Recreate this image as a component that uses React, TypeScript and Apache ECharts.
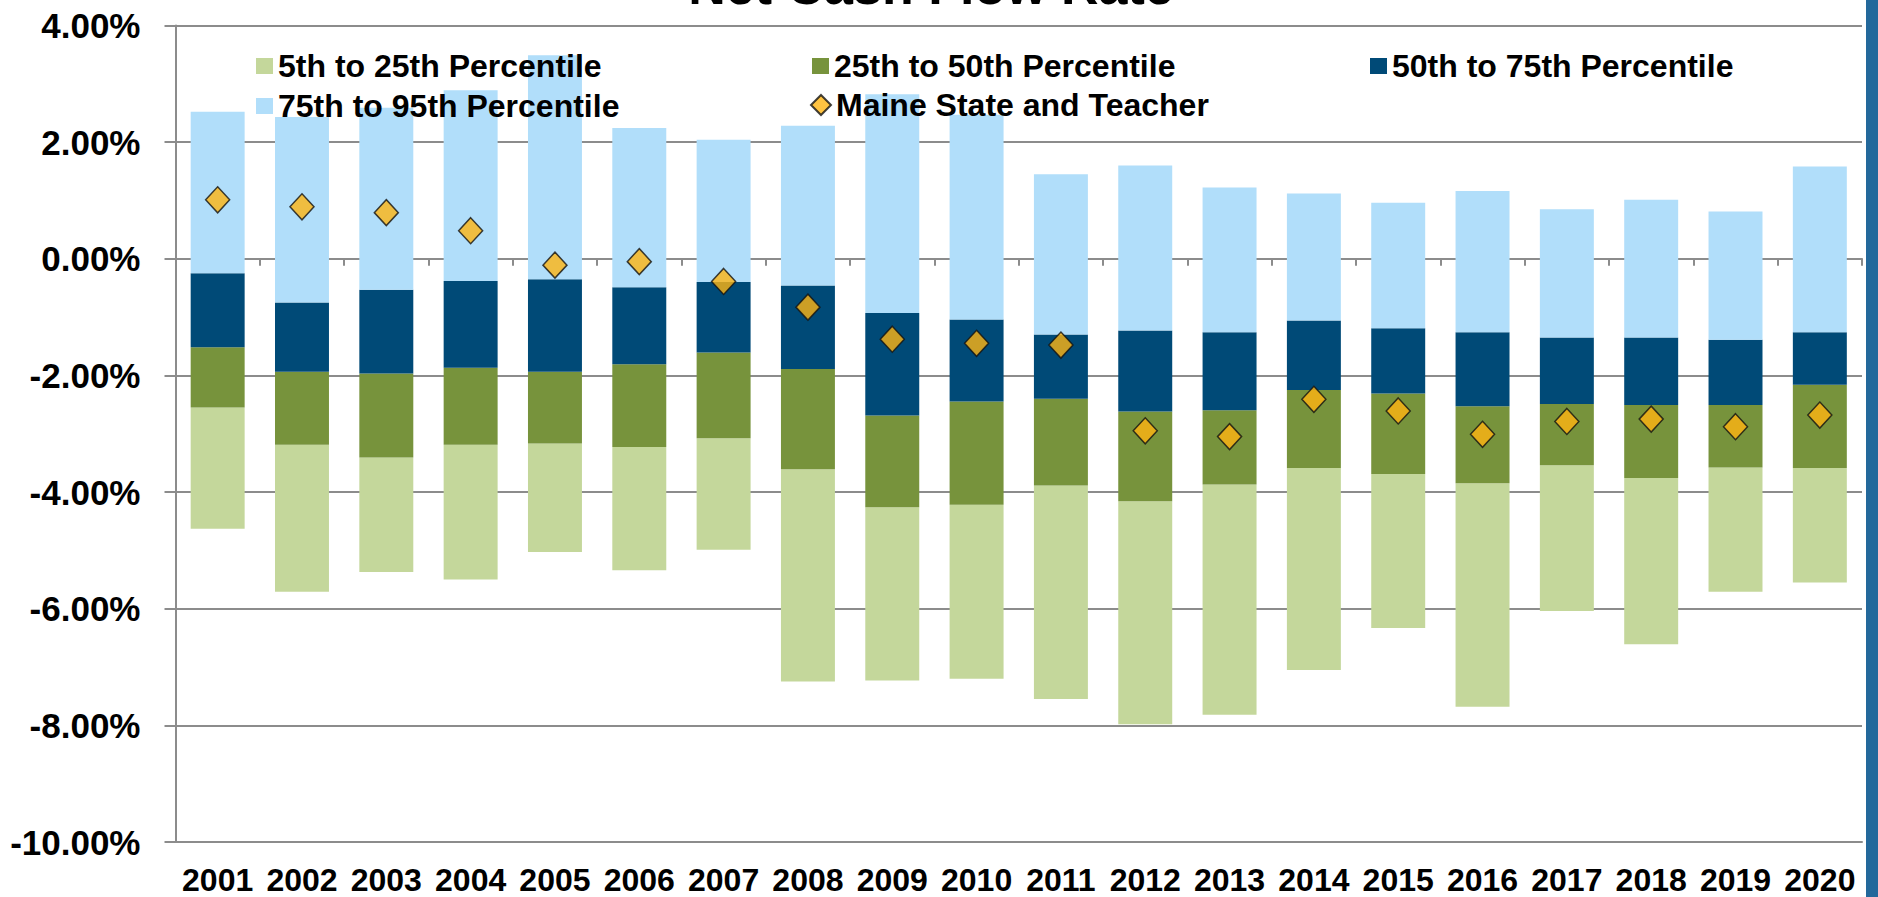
import React, { useEffect, useRef } from "react";
import * as echarts from "echarts";

const years = ["2001","2002","2003","2004","2005","2006","2007","2008","2009","2010","2011","2012","2013","2014","2015","2016","2017","2018","2019","2020"];

// percentile boundaries (%)
const p5 = [-4.63,-5.71,-5.37,-5.50,-5.03,-5.34,-4.99,-7.25,-7.23,-7.20,-7.55,-7.98,-7.82,-7.05,-6.33,-7.68,-6.04,-6.61,-5.71,-5.55];
const p25 = [-2.55,-3.19,-3.41,-3.19,-3.17,-3.23,-3.08,-3.61,-4.26,-4.22,-3.89,-4.16,-3.87,-3.59,-3.69,-3.85,-3.54,-3.76,-3.58,-3.59];
const p50 = [-1.52,-1.94,-1.97,-1.87,-1.94,-1.81,-1.61,-1.89,-2.69,-2.45,-2.40,-2.62,-2.60,-2.25,-2.31,-2.53,-2.49,-2.51,-2.51,-2.16];
const p75 = [-0.25,-0.75,-0.53,-0.38,-0.35,-0.49,-0.40,-0.46,-0.93,-1.04,-1.30,-1.23,-1.26,-1.06,-1.19,-1.26,-1.35,-1.35,-1.39,-1.26];
const p95 = [2.52,2.43,2.59,2.89,3.49,2.24,2.04,2.28,2.82,2.47,1.45,1.60,1.22,1.12,0.96,1.16,0.85,1.01,0.81,1.58];
const maine = [1.01,0.89,0.79,0.48,-0.11,-0.05,-0.39,-0.83,-1.38,-1.45,-1.48,-2.95,-3.05,-2.41,-2.61,-3.01,-2.79,-2.75,-2.88,-2.68];

const yTicks = { min: -10, max: 4, interval: 2 };

const names = [
  "5th to 25th Percentile",
  "25th to 50th Percentile",
  "50th to 75th Percentile",
  "75th to 95th Percentile",
  "Maine State and Teacher",
];
const title = "Net Cash Flow Rate";

const colors = ["#C4D79B", "#77933C", "#004A77", "#B1DEFA", "#FFB412"];
const GRID = "#8C8C8C";
const LAB_FONT = "'Liberation Sans', Arial, sans-serif";

export default function App() {
  const ref = useRef<HTMLDivElement>(null);
  useEffect(() => {
    if (!ref.current) return;
    const chart = echarts.init(ref.current, null, { renderer: "svg" });
    const diff = (a: number[], b: number[]) => a.map((v, i) => +(v - b[i]).toFixed(4));
    const barCommon = {
      type: "bar",
      stack: "pct",
      stackStrategy: "all",
      barWidth: "64%",
      xAxisIndex: 0,
      yAxisIndex: 0,
    };
    const legendPos = [
      { left: 256, top: 50, icon: "rect", w: 17, h: 16 },
      { left: 812, top: 50, icon: "rect", w: 17, h: 16 },
      { left: 1370, top: 50, icon: "rect", w: 17, h: 16 },
      { left: 256, top: 90, icon: "rect", w: 17, h: 16 },
      { left: 810, top: 89, icon: "diamond", w: 20, h: 20 },
    ];
    const option: any = {
      animation: false,
      backgroundColor: "#ffffff",
      grid: { left: 175.5, right: 16, top: 25.4, bottom: 55, containLabel: false },
      legend: names.map((n, i) => ({
        data: [{ name: n, icon: legendPos[i].icon }],
        left: legendPos[i].left,
        top: legendPos[i].top,
        itemWidth: legendPos[i].w,
        itemHeight: legendPos[i].h,
        padding: 0,
        itemGap: 0,
        selectedMode: false,
        textStyle: { fontFamily: LAB_FONT, fontWeight: "bold", fontSize: 32, color: "#000" },
      })),
      xAxis: [
        {
          type: "category",
          data: years,
          position: "bottom",
          axisLine: { show: true, onZero: false, lineStyle: { color: GRID, width: 2 } },
          axisTick: { show: false },
          axisLabel: {
            fontFamily: LAB_FONT,
            fontWeight: "bold",
            fontSize: 32,
            lineHeight: 24,
            color: "#000",
            margin: 26,
            interval: 0,
          },
        },
        {
          type: "category",
          data: years,
          position: "bottom",
          axisLine: { show: true, onZero: true, lineStyle: { color: GRID, width: 2 } },
          axisTick: { show: true, length: 7, lineStyle: { color: GRID, width: 2 } },
          axisLabel: { show: false },
        },
      ],
      yAxis: {
        type: "value",
        min: yTicks.min,
        max: yTicks.max,
        interval: yTicks.interval,
        axisLine: { show: true, lineStyle: { color: GRID, width: 2 } },
        axisTick: { show: true, length: 11, lineStyle: { color: GRID, width: 2 } },
        splitLine: { show: true, lineStyle: { color: GRID, width: 2 } },
        axisLabel: {
          formatter: (v: number) => v.toFixed(2) + "%",
          fontFamily: LAB_FONT,
          fontWeight: "bold",
          fontSize: 35,
          color: "#000",
          margin: 35,
        },
      },
      series: [
        { ...barCommon, name: "base", data: p5, itemStyle: { color: "rgba(0,0,0,0)" }, silent: true },
        { ...barCommon, name: names[0], data: diff(p25, p5), itemStyle: { color: colors[0] } },
        { ...barCommon, name: names[1], data: diff(p50, p25), itemStyle: { color: colors[1] } },
        { ...barCommon, name: names[2], data: diff(p75, p50), itemStyle: { color: colors[2] } },
        { ...barCommon, name: names[3], data: diff(p95, p75), itemStyle: { color: colors[3] } },
        {
          type: "scatter",
          name: names[4],
          data: maine,
          symbol: "diamond",
          symbolSize: [24, 26],
          z: 5,
          itemStyle: { color: colors[4], borderColor: "#111", borderWidth: 1.5 },
        },
      ],
      graphic: [
        {
          type: "text",
          x: 931,
          y: -14,
          style: {
            text: title,
            font: "bold 52px 'Liberation Sans', Arial, sans-serif",
            fill: "#000",
            textAlign: "center",
            textVerticalAlign: "middle",
          },
        },
        {
          type: "rect",
          shape: { x: 1866, y: 0, width: 12, height: 897 },
          style: { fill: "#23689B" },
        },
      ],
    };
    chart.setOption(option);
    return () => chart.dispose();
  }, []);
  return (
    <div
      ref={ref}
      style={{ position: "fixed", left: 0, top: 0, width: 1878, height: 897, background: "#fff" }}
    />
  );
}
